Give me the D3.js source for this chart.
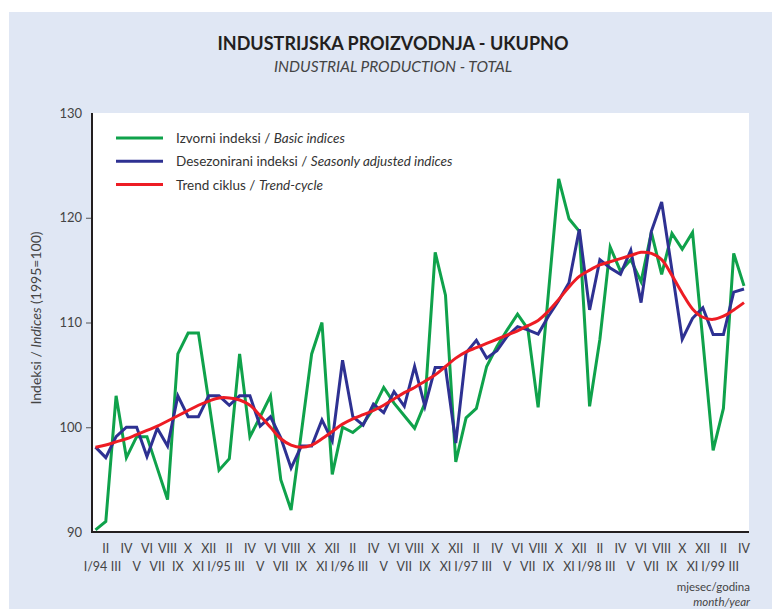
<!DOCTYPE html>
<html>
<head>
<meta charset="utf-8">
<script src="https://cdn.jsdelivr.net/npm/d3@7"></script>
<style>
  body { margin: 0; background: #fff; }
  svg { display: block; font-family: Lato, "Open Sans", sans-serif; }
</style>
</head>
<body>
<svg id="chart" width="772" height="609"></svg>
<script>
// months I/94 .. IV/99
var aMonths = ['I','II','III','IV','V','VI','VII','VIII','IX','X','XI','XII'];
var aYears = ['94','95','96','97','98','99'];

var aBasic = [90.2, 91.0, 103.0, 97.1, 99.1, 99.1, 96.1, 93.1, 107.0, 109.0, 109.0, 102.5,
  95.9, 97.0, 107.0, 99.1, 101.0, 103.0, 95.0, 92.1, 99.5, 107.0, 110.0, 95.5,
  100.0, 99.5, 100.3, 101.8, 103.8, 102.3, 101.1, 99.9, 102.3, 116.7, 112.6, 96.7,
  100.9, 101.8, 105.8, 107.7, 109.3, 110.8, 109.4, 101.9, 112.8, 123.7, 119.9, 118.7,
  102.0, 108.4, 117.2, 114.9, 116.0, 113.9, 118.6, 114.6, 118.5, 117.0, 118.6, 108.3,
  97.8, 101.8, 116.6, 113.5];

var aSeasAdj = [98.1, 97.1, 99.1, 100.0, 100.0, 97.2, 99.9, 98.2, 103.0, 101.0, 101.0, 103.0,
  103.0, 102.1, 103.0, 103.0, 100.1, 101.0, 99.0, 96.1, 98.2, 98.2, 100.7, 98.7,
  106.4, 101.0, 100.2, 102.2, 101.4, 103.4, 102.0, 105.8, 102.0, 105.7, 105.7, 98.5,
  107.1, 108.3, 106.6, 107.3, 108.7, 109.6, 109.3, 108.9, 110.6, 112.1, 113.8, 118.9,
  111.2, 116.0, 115.2, 114.6, 116.9, 111.9, 118.7, 121.5, 115.0, 108.4, 110.4, 111.4,
  108.85, 108.85, 112.9, 113.2];

var aTrend = [98.1, 98.3, 98.6, 98.9, 99.3, 99.7, 100.1, 100.6, 101.1, 101.6, 102.1, 102.5,
  102.8, 102.8, 102.6, 102.1, 101.1, 100.0, 98.9, 98.3, 98.1, 98.3, 98.9, 99.6,
  100.3, 100.8, 101.2, 101.6, 102.1, 102.7, 103.3, 103.8, 104.4, 105.0, 105.8, 106.6,
  107.2, 107.6, 108.0, 108.4, 108.8, 109.2, 109.7, 110.2, 111.1, 112.2, 113.4, 114.4,
  115.0, 115.5, 115.8, 116.1, 116.4, 116.7, 116.6, 116.0, 114.5, 112.8, 111.3, 110.5,
  110.3, 110.6, 111.2, 111.9];

var aYTicks = [90, 100, 110, 120, 130];

var aLegend = [
  { plain: 'Izvorni indeksi / ', ital: 'Basic indices', color: '#0fa24b' },
  { plain: 'Desezonirani indeksi / ', ital: 'Seasonly adjusted indices', color: '#2e3192' },
  { plain: 'Trend ciklus / ', ital: 'Trend-cycle', color: '#ed1c24' }
];

var sSvg = d3.select('#chart');

// labels for every month
var aLabels = [];
for (var i = 0; i < aBasic.length; i++)
{
  var m = i % 12;
  var lbl = aMonths[m];
  if (m == 0) lbl = lbl + '/' + aYears[Math.floor(i / 12)];
  aLabels.push(lbl);
}

// background panel
sSvg.append('rect')
  .attr('x', 9).attr('y', 12)
  .attr('width', 763).attr('height', 597)
  .attr('fill', '#e0e7f4');

var nLeft = 92, nRight = 749, nTop = 113, nBottom = 532;

sSvg.append('rect')
  .attr('x', nLeft).attr('y', nTop)
  .attr('width', nRight - nLeft).attr('height', nBottom - nTop)
  .attr('fill', '#fff');

var x = d3.scaleLinear().domain([0, aBasic.length - 1]).range([95.5, 744]);
var y = d3.scaleLinear().domain([90, 130]).range([nBottom, nTop]);

// titles
sSvg.append('text')
  .attr('x', 393).attr('y', 50)
  .attr('text-anchor', 'middle')
  .style('font-size', '18px').style('font-weight', 'bold')
  .attr('fill', '#231f20')
  .text('INDUSTRIJSKA PROIZVODNJA - UKUPNO');

sSvg.append('text')
  .attr('x', 393).attr('y', 72)
  .attr('text-anchor', 'middle')
  .style('font-size', '15.5px').style('font-style', 'italic')
  .attr('fill', '#444')
  .text('INDUSTRIAL PRODUCTION - TOTAL');

// y axis
var sYAxis = sSvg.append('g')
  .attr('transform', 'translate(' + nLeft + ',0)')
  .call(d3.axisLeft(y).tickValues(aYTicks).tickSize(6).tickPadding(4));
sYAxis.select('.domain').remove();
sYAxis.selectAll('.tick line').attr('stroke', '#555');
sYAxis.selectAll('.tick').filter(function(d) { return d == 90 || d == 130; }).select('line').remove();
sYAxis.selectAll('.tick text')
  .attr('fill', '#444')
  .style('font-size', '13px')
  .style('font-family', 'Lato, "Open Sans", sans-serif');

var sYLabel = sSvg.append('text')
  .attr('transform', 'translate(41,' + 318 + ') rotate(-90)')
  .attr('text-anchor', 'middle')
  .style('font-size', '14px')
  .attr('fill', '#444');
sYLabel.append('tspan').text('Indeksi / ');
sYLabel.append('tspan').style('font-style', 'italic').text('Indices');
sYLabel.append('tspan').text(' (1995=100)');

// x labels, two rows
sSvg.append('g')
  .selectAll('text')
  .data(aLabels)
  .enter()
    .append('text')
      .attr('x', function(d, i) { return x(i); })
      .attr('y', function(d, i) { return i % 2 == 1 ? 553 : 571; })
      .attr('text-anchor', 'middle')
      .style('font-size', '12.5px')
      .attr('fill', '#444')
      .text(function(d) { return d; });

sSvg.append('text')
  .attr('x', 750).attr('y', 591)
  .attr('text-anchor', 'end')
  .style('font-size', '11.5px')
  .attr('fill', '#444')
  .text('mjesec/godina');
sSvg.append('text')
  .attr('x', 750).attr('y', 606)
  .attr('text-anchor', 'end')
  .style('font-size', '11.5px').style('font-style', 'italic')
  .attr('fill', '#444')
  .text('month/year');

// series
function DrawSeries(aValues, strColor, fnCurve)
{
  var line = d3.line()
    .x(function(d, i) { return x(i); })
    .y(function(d) { return y(d); })
    .curve(fnCurve);
  sSvg.append('path')
    .datum(aValues)
    .attr('d', line)
    .attr('fill', 'none')
    .attr('stroke', strColor)
    .attr('stroke-width', 3)
    .attr('stroke-linejoin', 'miter');
}

DrawSeries(aBasic, aLegend[0].color, d3.curveLinear);
DrawSeries(aSeasAdj, aLegend[1].color, d3.curveLinear);
DrawSeries(aTrend, aLegend[2].color, d3.curveCatmullRom);

// axis lines on top
sSvg.append('line')
  .attr('x1', nLeft).attr('x2', nLeft)
  .attr('y1', nTop).attr('y2', nBottom + 1)
  .attr('stroke', '#231f20').attr('stroke-width', 2);
sSvg.append('line')
  .attr('x1', nLeft - 1).attr('x2', nRight)
  .attr('y1', nBottom).attr('y2', nBottom)
  .attr('stroke', '#231f20').attr('stroke-width', 2);

// legend
var sLegend = sSvg.append('g')
  .selectAll('g')
  .data(aLegend)
  .enter()
    .append('g')
      .attr('transform', function(d, i) { return 'translate(0,' + (138 + i * 23.3) + ')'; });

sLegend.append('line')
  .attr('x1', 116).attr('x2', 163)
  .attr('y1', 0).attr('y2', 0)
  .attr('stroke', function(d) { return d.color; })
  .attr('stroke-width', 3);

var sLegendText = sLegend.append('text')
  .attr('x', 176).attr('y', 5)
  .style('font-size', '13.5px')
  .attr('fill', '#333');
sLegendText.append('tspan').text(function(d) { return d.plain; });
sLegendText.append('tspan').style('font-style', 'italic').text(function(d) { return d.ital; });
</script>
</body>
</html>
